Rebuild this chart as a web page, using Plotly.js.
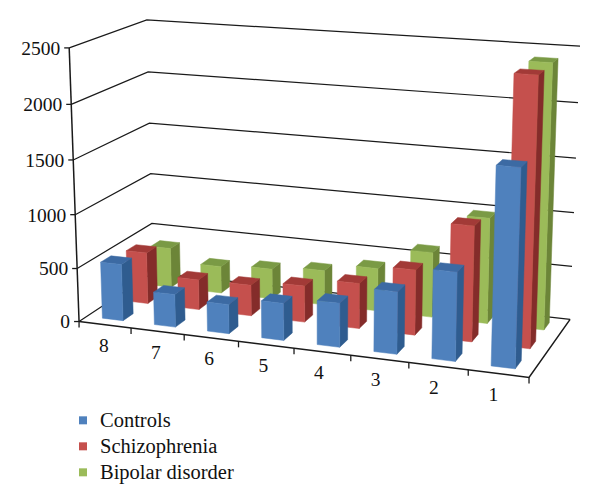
<!DOCTYPE html>
<html><head><meta charset="utf-8">
<script src="https://cdn.plot.ly/plotly-3.0.1.min.js"></script>
<style>html,body{margin:0;padding:0;background:#fff}</style></head>
<body><div id="chart" style="width:600px;height:504px"></div>
<script>
const categories = ['8','7','6','5','4','3','2','1'];
const controls = [530,305,270,340,400,560,790,1735];
const schizophrenia = [490,285,290,340,420,600,1050,2400];
const bipolar = [385,260,290,330,405,610,980,2410];
const valueTicks = [0,500,1000,1500,2000,2500];

// Camera calibration: floor/wall corners of the 3-D box -> page pixels
const calib = [
 [0,0,0,79,322],[8,0,0,529,377],[8,1,0,570,320],[0,1,0,153,272],
 [0,0,2500,69,48],[0,1,2500,147,20],[8,1,2500,580,46],[4,0,0,294.3,348]
];
function solve(A,b){
  const n=b.length;const M=A.map((r,i)=>[...r,b[i]]);
  for(let i=0;i<n;i++){
    let p=i;for(let k=i+1;k<n;k++)if(Math.abs(M[k][i])>Math.abs(M[p][i]))p=k;
    [M[i],M[p]]=[M[p],M[i]];
    for(let k=i+1;k<n;k++){const f=M[k][i]/M[i][i];for(let j=i;j<=n;j++)M[k][j]-=f*M[i][j];}
  }
  const x=new Array(n).fill(0);
  for(let i=n-1;i>=0;i--){let s=M[i][n];for(let j=i+1;j<n;j++)s-=M[i][j]*x[j];x[i]=s/M[i][i];}
  return x;
}
const P=(function(){
  const rows=[],rhs=[];
  calib.forEach(([X,Y,Z,u,v])=>{
    const x=X/8,y=Y,z=Z/2500;u/=600;v/=600;
    rows.push([x,y,z,1,0,0,0,0,-u*x,-u*y,-u*z]);rhs.push(u);
    rows.push([0,0,0,0,x,y,z,1,-v*x,-v*y,-v*z]);rhs.push(v);
  });
  const n=11,A=[],b=[];
  for(let i=0;i<n;i++){A.push([]);let s=0;
    for(let j=0;j<n;j++){let t=0;rows.forEach(r=>t+=r[i]*r[j]);A[i].push(t);}
    rows.forEach((r,k)=>s+=r[i]*rhs[k]);b.push(s);}
  return solve(A,b);
})();
function proj(X,Y,Z){
  const x=X/8,y=Y,z=Z/2500;
  const w=P[8]*x+P[9]*y+P[10]*z+1;
  return [600*(P[0]*x+P[1]*y+P[2]*z+P[3])/w,600*(P[4]*x+P[5]*y+P[6]*z+P[7])/w];
}

const traces=[];
function line(pts,width){
  const p=pts.map(q=>proj(...q));
  traces.push({type:'scatter',mode:'lines',x:p.map(a=>a[0]),y:p.map(a=>a[1]),
    line:{color:'#1a1a1a',width:width||1.2},showlegend:false,hoverinfo:'skip'});
}
// Walls and floor
valueTicks.forEach(v=>line([[0,0,v],[0,1,v],[8,1,v]]));
line([[0,0,0],[8,0,0],[8,1,0]],1.5);
line([[0,0,0],[0,0,2500]],1.5);
// Ticks
valueTicks.forEach(v=>{const a=proj(0,0,v);
  traces.push({type:'scatter',mode:'lines',x:[a[0]-5,a[0]],y:[a[1],a[1]],line:{color:'#1a1a1a',width:1.3},showlegend:false,hoverinfo:'skip'});});
for(let i=0;i<=8;i++){const a=proj(i,0,0);
  traces.push({type:'scatter',mode:'lines',x:[a[0],a[0]],y:[a[1],a[1]+6],line:{color:'#1a1a1a',width:1.3},showlegend:false,hoverinfo:'skip'});}

// Bars: drawn back row first
const series=[
 {name:'Bipolar disorder',vals:bipolar,row:2,front:'#9BBB59',side:'#6C8538',top:'#7A9A45'},
 {name:'Schizophrenia',vals:schizophrenia,row:1,front:'#C5504D',side:'#842C2A',top:'#A23A37'},
 {name:'Controls',vals:controls,row:0,front:'#4F81BD',side:'#2F5C8F',top:'#3C6AA3'}
];
const halfW=0.2, halfD=0.0667;
function poly(color,polys){
  const x=[],y=[];
  polys.forEach(pl=>{pl.forEach(q=>{const a=proj(...q);x.push(a[0]);y.push(a[1]);});
    const a=proj(...pl[0]);x.push(a[0]);y.push(a[1]);x.push(null);y.push(null);});
  traces.push({type:'scatter',mode:'lines',x,y,fill:'toself',fillcolor:color,
    line:{color:color,width:0.5},showlegend:false,hoverinfo:'skip'});
}
series.forEach(s=>{
  const d0=(s.row+0.5)/3-halfD,d1=(s.row+0.5)/3+halfD;
  const fr=[],si=[],to=[];
  s.vals.forEach((v,i)=>{
    const x0=i+0.5-halfW,x1=i+0.5+halfW;
    fr.push([[x0,d0,0],[x1,d0,0],[x1,d0,v],[x0,d0,v]]);
    si.push([[x1,d0,0],[x1,d1,0],[x1,d1,v],[x1,d0,v]]);
    to.push([[x0,d0,v],[x1,d0,v],[x1,d1,v],[x0,d1,v]]);
  });
  poly(s.side,si);poly(s.top,to);poly(s.front,fr);
});

// Text
traces.push({type:'scatter',mode:'text',
  x:valueTicks.map(v=>proj(0,0,v)[0]-9),y:valueTicks.map(v=>proj(0,0,v)[1]+2),
  text:valueTicks.map(String),textposition:'middle left',
  textfont:{family:'Liberation Serif',size:19.5,color:'#111'},showlegend:false,hoverinfo:'skip'});
traces.push({type:'scatter',mode:'text',
  x:categories.map((c,i)=>proj(i+0.5,0,0)[0]-1-i*0.6),y:categories.map((c,i)=>proj(i+0.5,0,0)[1]+22.5),
  text:categories,textposition:'middle center',
  textfont:{family:'Liberation Serif',size:19.5,color:'#111'},showlegend:false,hoverinfo:'skip'});

// Legend
[series[2],series[1],series[0]].forEach(s=>traces.push({type:'scatter',mode:'markers',x:[null],y:[null],name:s.name,
  marker:{symbol:'square',size:8,color:s.front},hoverinfo:'skip'}));

Plotly.newPlot('chart',traces,{
  width:600,height:504,margin:{l:0,r:0,t:0,b:0},
  paper_bgcolor:'#fff',plot_bgcolor:'#fff',
  xaxis:{range:[0,600],visible:false,fixedrange:true},
  yaxis:{range:[504,0],visible:false,fixedrange:true},
  legend:{x:60/600,y:1-399/504,xanchor:'left',yanchor:'top',bgcolor:'rgba(0,0,0,0)',
    font:{family:'Liberation Serif',size:20.5,color:'#111'}},
  showlegend:true
},{displayModeBar:false,staticPlot:true}).then(gd=>{
  // Reference legend rows are tighter than plotly's default line box
  const rows=gd.querySelectorAll('.legend .traces');
  const rowGap=26;
  const first=rows[0].transform.baseVal.consolidate().matrix;
  rows.forEach((r,i)=>{
    r.setAttribute('transform','translate('+first.e+','+(first.f+i*rowGap)+')');
    const sym=r.querySelector('.legendsymbols');
    if(sym) sym.setAttribute('transform','translate(3,1.5)');
  });
});
</script></body></html>
